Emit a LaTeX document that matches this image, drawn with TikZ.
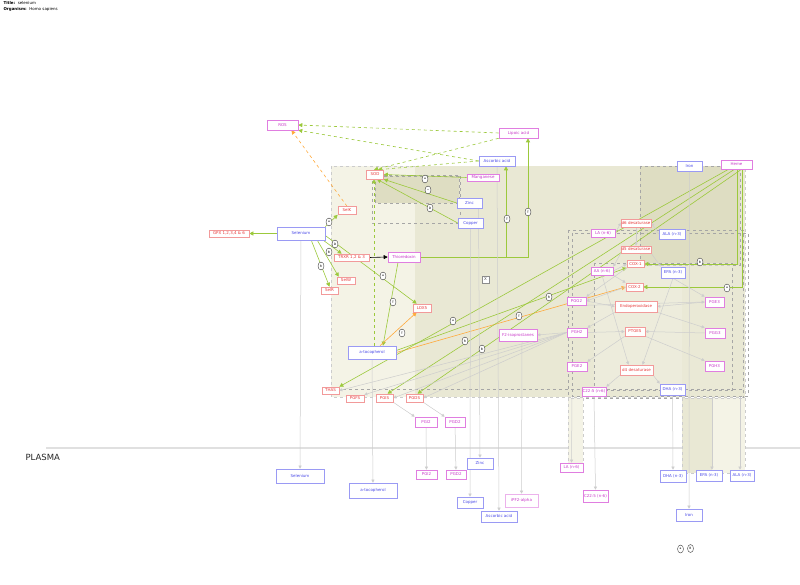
\documentclass[tikz,border=0pt]{standalone}
\usepackage{fontspec}
\setmainfont{DejaVu Sans}
\usetikzlibrary{arrows.meta,shapes.geometric}
\definecolor{geneB}{HTML}{F29A9A}
\definecolor{geneT}{HTML}{E83A3A}
\definecolor{metB}{HTML}{E07EE0}
\definecolor{metT}{HTML}{C93AC9}
\definecolor{eleB}{HTML}{9A9AF4}
\definecolor{eleT}{HTML}{4A4AE8}
\definecolor{actG}{HTML}{9CC93C}
\definecolor{inhO}{HTML}{FFAA3C}
\definecolor{convG}{HTML}{CDCDCD}
\definecolor{grpA}{HTML}{F4F3E6}
\definecolor{grpB}{HTML}{E9E8D4}
\definecolor{grpC}{HTML}{DEDDC2}
\pgfdeclarelayer{groups}
\pgfdeclarelayer{edges}
\pgfsetlayers{groups,edges,main}
\tikzset{
  box/.style={draw, fill=white, rectangle, inner sep=0pt, line width=0.6pt},
  gene/.style={box, draw=geneB, text=geneT, minimum width=18, minimum height=8},
  metab/.style={box, draw=metB, text=metT, minimum width=22, minimum height=9},
  elem/.style={box, draw=eleB, text=eleT, minimum width=26, minimum height=11},
  act/.style={draw=actG, line width=0.6pt, -{Triangle[width=4pt,length=4pt]}},
  inh/.style={draw=inhO, line width=0.6pt, -{Triangle[width=4pt,length=4pt]}},
  conv/.style={draw=convG, line width=0.5pt, -{Triangle[width=3pt,length=3pt]}},
  grp/.style={draw=black!35, dashed, line width=0.4pt},
  lbl/.style={ellipse, draw=black!75, fill=white, inner sep=0pt, minimum width=6,
    minimum height=8, line width=0.4pt, font=\fontsize{3}{3}\selectfont}
}
\begin{document}
\begin{tikzpicture}[x=1pt,y=-1pt,font=\fontsize{4}{4.5}\selectfont]
\useasboundingbox (0,0) rectangle (800,585);
\node[anchor=west] (title) at (0,3.5) {\textbf{Title:}\ \ selenium};
\node[anchor=west] (organism) at (0,9.5) {\textbf{Organism:}\ \ Homo sapiens};

% cell
\node[gene,minimum width=17,minimum height=9] (sod) at (375,174.5) {SOD};
\node[metab,minimum width=31,minimum height=10] (ros) at (282.5,125) {ROS};
\node[metab,minimum width=39,minimum height=10] (lipoic) at (518.5,133) {Lipoic acid};
\node[elem,minimum width=36,minimum height=10] (ascTop) at (497,161) {Ascorbic acid};
\node[metab,minimum width=32,minimum height=7] (mn) at (483,177.5) {Manganese};
\node[elem,minimum width=25,minimum height=10] (zinc) at (469.5,203) {Zinc};
\node[elem,minimum width=25,minimum height=10] (copper) at (470.5,223) {Copper};
\node[gene] (selk) at (347,210.5) {SelK};
\node[elem,minimum width=48,minimum height=13] (selenium) at (301,233.5) {Selenium};
\node[gene,minimum width=40,minimum height=7] (gpx) at (229,233.5) {GPX 1,2,3,4 \& 6};
\node[gene,minimum width=35,minimum height=7] (trxr) at (351.5,257.5) {TRXR 1,2 \& 3};
\node[metab,minimum width=32,minimum height=10] (thio) at (404,257) {Thioredoxin};
\node[gene,minimum height=7] (selw) at (346,280.5) {SelW};
\node[gene,minimum width=17,minimum height=7] (selr) at (329.5,290.5) {SelR};
\node[gene] (lox) at (422,308) {LOX5};
\node[elem,minimum width=48,minimum height=13] (atoc) at (372,352.5) {a-tocopherol};
\node[gene,minimum width=17,minimum height=7] (thas) at (330.5,390.5) {THAS};
\node[gene,minimum height=7] (pgfs) at (355,398.5) {PGFS};
\node[gene,minimum width=17] (pgis) at (384.5,398) {PGIS};
\node[gene,minimum width=17] (pgds) at (414.5,398) {PGDS};
\node[metab,minimum width=38,minimum height=12] (f2iso) at (518,335) {F2-isoprostanes};
\node[box,draw=black!45,text=black!70,minimum width=7,minimum height=7] (xbox) at (485.5,279.5) {X};
\node[elem,minimum width=25,minimum height=10] (ironTop) at (689.5,166) {Iron};
\node[metab,minimum width=31,minimum height=9] (heme) at (736.5,164.5) {Heme};
\node[gene,minimum width=30] (d6) at (636,223) {d6 desaturase};
\node[metab,minimum width=24,minimum height=8] (laTop) at (603,233) {LA (n-6)};
\node[elem,minimum height=10] (alaTop) at (672,234) {ALA (n-3)};
\node[gene,minimum width=30,minimum height=7] (d5) at (636,249.5) {d5 desaturase};
\node[gene,minimum width=17,minimum height=7] (cox1) at (635.5,264) {COX-1};
\node[metab,minimum height=8] (aa) at (602,271) {AA (n-6)};
\node[elem,minimum width=24] (epaTop) at (673,272.5) {EPA (n-3)};
\node[gene,minimum width=17] (cox2) at (634.5,287) {COX-2};
\node[metab,minimum width=19,minimum height=8] (pgg2) at (576.5,301) {PGG2};
\node[gene,minimum width=42,minimum height=11] (endo) at (636,306.5) {Endoperoxidase};
\node[metab,minimum width=19,minimum height=10] (pge3) at (714.5,302) {PGE3};
\node[metab,minimum width=20] (pgh2) at (577,332.5) {PGH2};
\node[gene,minimum width=20,minimum height=9] (ptges) at (635,331.5) {PTGES};
\node[metab,minimum width=20,minimum height=10] (pgg3) at (715,333) {PGG3};
\node[metab,minimum width=20] (pge2) at (577,366.5) {PGE2};
\node[gene,minimum width=33,minimum height=10] (d4) at (636.5,370) {d4 desaturase};
\node[metab,minimum width=19,minimum height=10] (pgh3) at (714.5,366) {PGH3};
\node[metab,minimum width=24] (c22Top) at (594,391.5) {C22:5 (n-6)};
\node[elem,minimum width=25] (dhaTop) at (672.5,389.5) {DHA (n-3)};
\node[metab,minimum height=10] (pgi2Top) at (426,422) {PGI2};
\node[metab,minimum width=20,minimum height=10] (pgd2Top) at (455,422) {PGD2};

% plasma
\node[anchor=west,font=\fontsize{8.5}{9}\selectfont,text=black!85] (plasma) at (22,457.5) {PLASMA};
\node[elem,minimum width=48,minimum height=14] (selP) at (300,476) {Selenium};
\node[elem,minimum width=48,minimum height=15] (atocP) at (373,490.5) {a-tocopherol};
\node[metab,minimum width=21] (pgi2P) at (426.5,474.5) {PGI2};
\node[metab,minimum width=20] (pgd2P) at (456,474.5) {PGD2};
\node[elem] (zincP) at (480,463.5) {Zinc};
\node[elem] (copperP) at (470,502.5) {Copper};
\node[elem,minimum width=36] (ascP) at (499,516.5) {Ascorbic acid};
\node[metab,draw=metB!60,minimum width=33,minimum height=13] (pf2P) at (521.5,500.5) {iPF2-alpha};
\node[metab,minimum width=23] (laP) at (571.5,467.5) {LA (n-6)};
\node[metab,minimum width=25,minimum height=12] (c22P) at (595.5,496) {C22:5 (n-6)};
\node[elem,minimum height=12] (dhaP) at (673,476) {DHA (n-3)};
\node[elem] (epaP) at (709,475.5) {EPA (n-3)};
\node[elem,minimum width=24] (alaP) at (742,475.5) {ALA (n-3)};
\node[elem,minimum height=12] (ironP) at (689,515) {Iron};
\coordinate (laSrc) at (572,397);
\coordinate (epaSrc) at (712,397);
\coordinate (alaSrc) at (740,397);

\begin{pgfonlayer}{groups}
\fill[white] (0,0) rectangle (800,585);
\draw[black!12,line width=1.2pt] (46,448) -- (800,448);
\fill[grpA] (331,166) rectangle (745,397);
\draw[grp,black!20] (331,166) rectangle (745,397);
\fill[grpB] (415,166) rectangle (745,397);
\fill[grpC] (640,166) rectangle (740,265);
\fill[grpC,opacity=0.6] (682,265) rectangle (732,390);
\draw[grp] (640,166) rectangle (740,265);
\draw[grp] (372,175) rectangle (460,223);
\fill[grpC] (375,176) rectangle (459,203);
\draw[grp] (375,176) rectangle (459,203);
\draw[grp] (568,230) rectangle (743,398);
\draw[grp] (572,233) rectangle (748,396);
\fill[grpA,opacity=0.45] (594,263) rectangle (732,390);
\draw[grp] (594,263) rectangle (732,390);
\draw[grp] (331,389) -- (745,389);
\fill[grpA] (568,398) rectangle (583,470);
\draw[grp,black!20] (568,398) rectangle (583,470);
\fill[grpB] (682,398) rectangle (712,473);
\fill[grpA] (712,398) rectangle (745,473);
\draw[grp,black!20] (682,398) rectangle (745,473);
\end{pgfonlayer}

\begin{pgfonlayer}{edges}
% selenium
\draw[act] (selenium.west) -- (gpx.east);
\draw[act] (selenium.north east) -- (selk.south west);
\draw[act] ([xshift=-2pt]selenium.south east) -- ([xshift=8pt]trxr.north west);
\draw[act] ([xshift=-8pt]selenium.south east) -- ([xshift=2pt]selw.north west);
\draw[act] ([xshift=-14pt]selenium.south east) -- (selr.north);
\draw[act] ([yshift=-2pt]selenium.east) -- ([xshift=4pt]lox.north west);
\draw[-{Triangle[width=4pt,length=4pt]},line width=0.6pt] (trxr.east) -- (thio.west);
% SOD
\draw[act] (mn.west) -- (sod.east);
\draw[act] (zinc.west) -- (sod.south east);
\draw[act] (copper.west) -- ([xshift=2pt]sod.south);
\draw[act,dashed] ([xshift=2pt]atoc.north) -- ([xshift=-1pt]sod.south);
\draw[act,dashed] (lipoic.south west) -- ([xshift=-1pt]sod.north);
\draw[act,dashed] (ascTop.west) -- ([xshift=3pt]sod.north);
\draw[act,dashed] (lipoic.west) -- (ros.east);
\draw[act,dashed] (ascTop.west) -- (ros.south east);
\draw[inh,dashed] (selk.north) -- ([xshift=9pt]ros.south);
% thioredoxin, tocopherol
\draw[act] (thio.east) -| ([xshift=9pt]ascTop.south);
\draw[act] (thio.east) -| ([xshift=9.5pt]lipoic.south);
\draw[act] ([xshift=-6pt]thio.south) -- ([xshift=11pt]atoc.north);
\draw[inh] ([xshift=8pt]atoc.north) -- ([xshift=4pt]lox.south west);
\draw[inh] (atoc.east) -- (cox2.west);
\draw[act] ([yshift=2pt]atoc.east) -- (cox1.south west);
% heme
\draw[act] ([xshift=-8pt]heme.south) -- (thas.north east);
\draw[act] ([xshift=-2pt]heme.south) -- ([xshift=3pt]pgis.north);
\draw[act] ([xshift=5pt]heme.south) -- ([xshift=3pt]pgds.north);
\draw[act] ([xshift=1pt]heme.south) |- (cox1.east);
\draw[act] ([xshift=6pt]heme.south) |- (cox2.east);
% fatty acids
\draw[conv] (laTop.east) -- (d6.west);
\draw[conv] (alaTop.west) -- (d6.east);
\draw[conv] (d6) -- (d5);
\draw[conv] (d5.south west) -- (aa.north east);
\draw[conv] (d5.south east) -- (epaTop.north west);
\draw[conv] (aa.east) -- (cox1.west);
\draw[conv] (aa.south east) -- (cox2.north west);
\draw[conv] (cox1.south west) -- (pgg2.north east);
\draw[conv] (cox2.west) -- (pgg2.east);
\draw[conv] (epaTop.south) -- (pge3.north west);
\draw[conv] (pgg2.east) -- (endo.west);
\draw[conv] (pge3.west) -- (endo.east);
\draw[conv] (pgg2.south east) -- (pge3.west);
\draw[conv] (endo.south west) -- (pgh2.north east);
\draw[conv] (endo.south east) -- (pgg3.north west);
\draw[conv] (pgh2.east) -- (ptges.west);
\draw[conv] (pgg3.west) -- (ptges.east);
\draw[conv] (ptges.south west) -- (pge2.north east);
\draw[conv] (ptges.south east) -- (pgh3.north west);
\draw[conv] (aa.south) -- ([xshift=-8pt]d4.north);
\draw[conv] (epaTop.south) -- ([xshift=6pt]d4.north);
\draw[conv] (d4.south west) -- (c22Top.north east);
\draw[conv] (d4.south east) -- (dhaTop.north west);
\draw[conv] (pgh2.west) -- (thas.east);
\draw[conv] (pgh2.west) -- (pgfs.north east);
\draw[conv] (pgh2.west) -- (pgis.east);
\draw[conv] (pgh2.west) -- (pgds.east);
\draw[conv] (pgh2.west) -- (f2iso.east);
\draw[conv] (pgis.south east) -- (pgi2Top.north west);
\draw[conv] (pgds.south east) -- (pgd2Top.north west);
% to plasma
\draw[conv] (selenium) -- (selP);
\draw[conv] (atoc) -- (atocP);
\draw[conv] (pgi2Top) -- (pgi2P);
\draw[conv] (pgd2Top) -- (pgd2P);
\draw[conv] ([xshift=9pt]zinc.south) -- (zincP.north);
\draw[conv] (copper.south) -- (copperP.north);
\draw[conv] (ascTop.south) -- (ascP.north);
\draw[conv] ([xshift=4pt]f2iso.south) -- (pf2P.north);
\draw[conv] (laSrc) -- (laP.north);
\draw[conv] (c22Top.south) -- (c22P.north);
\draw[conv] (dhaTop.south) -- (dhaP.north);
\draw[conv] (epaSrc) -- ([xshift=3pt]epaP.north);
\draw[conv] (alaSrc) -- ([xshift=-2pt]alaP.north);
\draw[conv] (ironTop.south) -- (ironP.north);
\end{pgfonlayer}

% edge marks
\node[lbl] (mSelK) at (329,222) {a};
\node[lbl] (mTrxr) at (335,244) {D};
\node[lbl] (mSelW) at (329,252) {B};
\node[lbl] (mSelR) at (321,266) {R};
\node[lbl] (mLox) at (383,276) {a};
\node[lbl] (mMn) at (425,179) {a};
\node[lbl] (mZn) at (428,190) {*};
\node[lbl] (mCu) at (430,208) {D};
\node[lbl] (mAsc) at (507,219) {T};
\node[lbl] (mLip) at (528,212) {T};
\node[lbl] (mToc) at (393,302) {T};
\node[lbl] (mLoxT) at (402,333) {T};
\node[lbl] (mCox2) at (519,316) {T};
\node[lbl] (mCox1) at (549,297) {R};
\node[lbl] (mThas) at (453,321) {a};
\node[lbl] (mPgis) at (465,341) {R};
\node[lbl] (mPgds) at (482,349) {B};
\node[lbl] (mHemeA) at (700,262) {B};
\node[lbl] (mHemeB) at (727,288) {a};
\node[lbl] (keyA) at (680.5,549) {a};
\node[lbl] (keyB) at (690.5,548.5) {B};
\end{tikzpicture}
\end{document}
